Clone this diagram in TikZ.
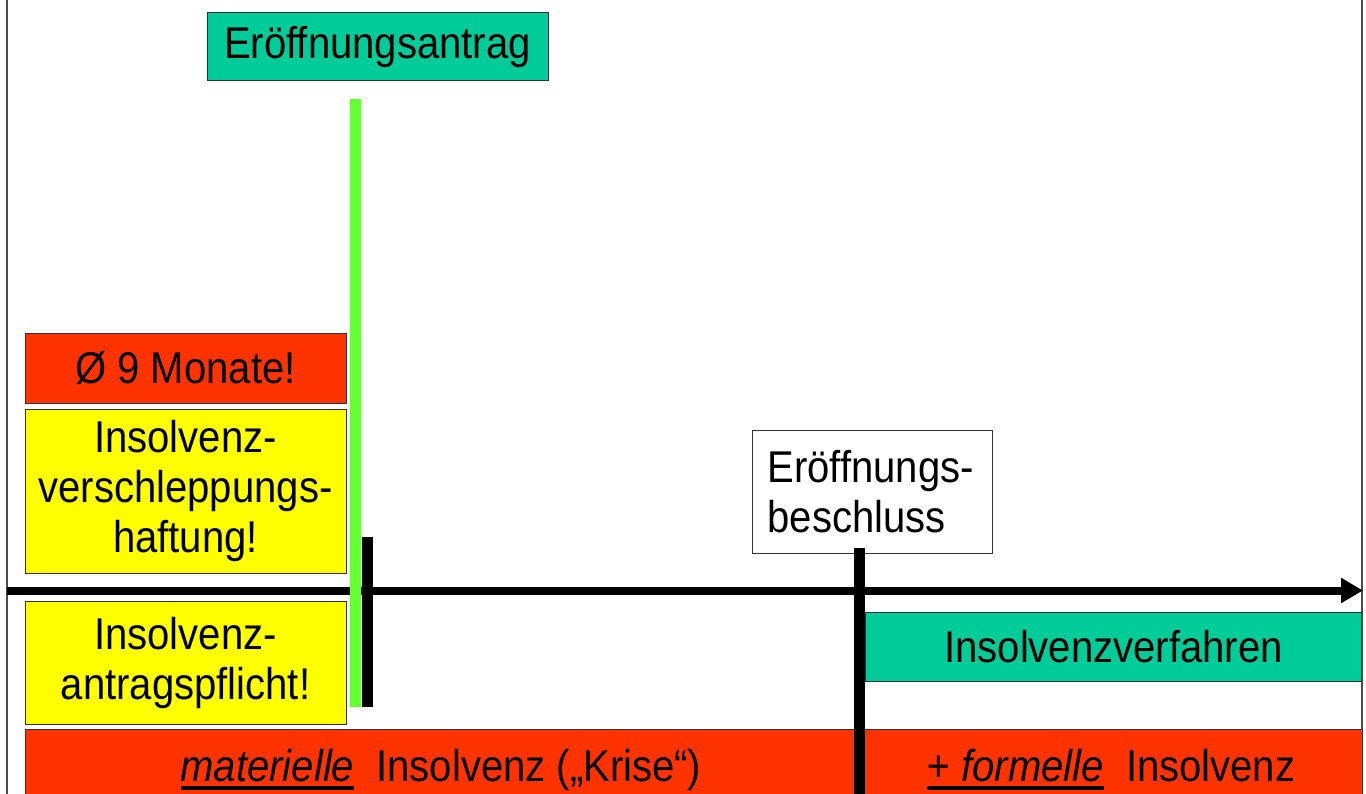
\documentclass[tikz,border=0pt]{standalone}
\usepackage{fontspec}
\setmainfont{Liberation Sans}[FakeStretch=0.9]
\usetikzlibrary{arrows.meta}
\definecolor{myteal}{HTML}{00CC99}
\definecolor{myred}{HTML}{FF3300}
\definecolor{myyellow}{HTML}{FFFF00}
\definecolor{mygreen}{HTML}{66FF33}
\newsavebox\ulbox
\newcommand\thickul[1]{\sbox\ulbox{#1}\leavevmode\rlap{\rule[-9pt]{\wd\ulbox}{4pt}}\usebox\ulbox}
\begin{document}
\begin{tikzpicture}[x=1pt,y=-1pt,
  box/.style={draw=black!80, line width=1pt, inner sep=0pt, align=center,
    font=\fontsize{44.5}{50}\selectfont},
  lbl/.style={inner sep=0pt, font=\fontsize{44.5}{50}\selectfont},
  bar/.style={line width=11pt}]
\useasboundingbox (0,0) rectangle (1366,794);
% frame
\draw[black!70, line width=2pt] (7,0) -- (7,794);
\draw[black!70, line width=2pt] (1362,0) -- (1362,794);
% boxes
\node[box, fill=myteal, minimum width=341pt, minimum height=68pt] (antrag) at (377.5,47) {Eröffnungsantrag};
\node[box, fill=myred, minimum width=321pt, minimum height=69pt] (monate) at (185.5,368.5) {Ø 9 Monate!};
\node[box, fill=myyellow, minimum width=321pt, minimum height=164pt] (haftung) at (185.5,491) {Insolvenz-\\verschleppungs-\\haftung!};
\node[box, fill=myyellow, minimum width=321pt, minimum height=123pt] (pflicht) at (185.5,662.5) {Insolvenz-\\antragspflicht!};
\node[box, fill=myred, minimum width=1337pt, minimum height=70pt, anchor=north west] (krise) at (25,729) {};
\node[lbl, anchor=base] (mat) at (441,781) {\thickul{\textit{materielle}}\ \ Insolvenz („Krise“)};
\node[lbl, anchor=base] (form) at (1111,781) {\thickul{\textit{+ formelle}}\ \ Insolvenz};
\node[box, fill=white, text width=210pt, align=left, inner xsep=15pt, minimum height=123pt, anchor=north west] (beschluss) at (752,430) {Eröffnungs-\\beschluss};
\node[box, fill=myteal, minimum width=496pt, minimum height=69pt, anchor=north west] (verf) at (865,612) {Insolvenzverfahren};
% axis
\coordinate (axL) at (7,590.5);
\coordinate (axR) at (1363,590.5);
\draw[line width=8pt, -{Triangle[length=22pt,width=24pt]}] (axL) -- (axR);
% green line and ticks
\coordinate (gT) at (355.5,99);
\coordinate (gB) at (355.5,707);
\draw[bar, mygreen] (gT) -- (gB);
\coordinate (t1T) at (367.5,537);
\coordinate (t1B) at (367.5,707);
\draw[bar] (t1T) -- (t1B);
\coordinate (t2T) at (859,548);
\coordinate (t2B) at (859,796);
\draw[bar] (t2T) -- (t2B);
\end{tikzpicture}
\end{document}
